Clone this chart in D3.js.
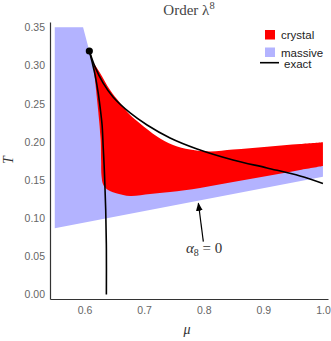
<!DOCTYPE html>
<html>
<head>
    <title>Order lambda^8</title>
    <script src="https://d3js.org/d3.v7.min.js"></script>
    <style>
        body { margin: 0; background: #fff; }
    </style>
</head>
<body>
    <svg width="331" height="341"></svg>
    <script>
        // tick values
        const muTicks = [0.6, 0.7, 0.8, 0.9, 1.0];
        const tTicks = [0.00, 0.05, 0.10, 0.15, 0.20, 0.25, 0.30, 0.35];

        // massive region [mu, T]
        const massive = [
            [0.55, 0.35], [0.5975, 0.35], [0.608, 0.319], [0.6143, 0.3047],
            [0.62, 0.27], [0.625, 0.23], [0.628, 0.17], [0.64, 0.15],
            [1.0, 0.175], [1.0, 0.1544], [0.55, 0.0868]
        ];

        // crystal region, upper edge then lower edge
        const crystalTop = [
            [0.6143, 0.3047], [0.626, 0.2903], [0.6428, 0.268], [0.6596, 0.251],
            [0.6765, 0.2352], [0.6931, 0.2241], [0.7216, 0.2071], [0.7485, 0.1959],
            [0.777, 0.19], [0.8106, 0.1874], [0.8492, 0.19], [0.9062, 0.1937],
            [0.9616, 0.1972], [1.0, 0.1995]
        ];
        const crystalBottom = [
            [1.0, 0.1684], [0.9616, 0.1632], [0.9062, 0.1553], [0.8492, 0.1474],
            [0.7938, 0.1396], [0.7435, 0.1343], [0.7099, 0.1317], [0.6763, 0.1291],
            [0.6545, 0.1324], [0.6394, 0.137], [0.6315, 0.1435], [0.6285, 0.1553],
            [0.6277, 0.1763], [0.6268, 0.2025], [0.6243, 0.2287], [0.621, 0.2549],
            [0.6176, 0.2811], [0.6143, 0.3047]
        ];

        // exact curves from the end point
        const exactUpper = [
            [0.608, 0.319], [0.6176, 0.2982], [0.631, 0.2772], [0.6478, 0.2588],
            [0.6765, 0.2379], [0.7049, 0.2221], [0.7435, 0.2051], [0.7888, 0.1907],
            [0.8492, 0.1763], [0.9062, 0.1658], [0.9616, 0.1553], [1.0, 0.1455]
        ];
        const exactLower = [
            [0.608, 0.319], [0.6126, 0.3047], [0.6176, 0.2877], [0.6226, 0.2654],
            [0.626, 0.2457], [0.6294, 0.222], [0.6311, 0.1959], [0.6328, 0.1697],
            [0.6341, 0.1435], [0.6355, 0.1107], [0.6366, 0.06], [0.6366, 0.0]
        ];
        const endPoint = [0.608, 0.319];

        const svg = d3.select("svg");

        const x = d3.scaleLinear().domain([0.542, 1.0085]).range([50, 328]);
        const y = d3.scaleLinear().domain([-0.0059, 0.357]).range([299, 22]);

        const line = d3.line().x(d => x(d[0])).y(d => y(d[1]));
        const smooth = d3.line().x(d => x(d[0])).y(d => y(d[1])).curve(d3.curveCatmullRom);

        // massive (blue)
        svg.append("path")
           .attr("d", line(massive) + "Z")
           .attr("fill", "#b3b3ff");

        // crystal (red)
        svg.append("path")
           .attr("d", smooth(crystalTop) + smooth(crystalBottom).replace("M", "L") + "Z")
           .attr("fill", "#ff0000");

        // exact curves
        [exactUpper, exactLower].forEach(c => {
            svg.append("path")
               .attr("d", smooth(c))
               .attr("fill", "none")
               .attr("stroke", "#000")
               .attr("stroke-width", 1.6);
        });
        svg.append("circle")
           .attr("cx", x(endPoint[0]))
           .attr("cy", y(endPoint[1]))
           .attr("r", 3.6)
           .attr("fill", "#000");

        // axes
        const xAxis = svg.append("g")
           .attr("transform", "translate(0,299)")
           .call(d3.axisBottom(x).tickValues(muTicks).tickSize(0).tickPadding(8).tickFormat(d3.format(".1f")));
        const yAxis = svg.append("g")
           .attr("transform", "translate(50,0)")
           .call(d3.axisLeft(y).tickValues(tTicks).tickSize(0).tickPadding(5).tickFormat(d3.format(".2f")));
        [xAxis, yAxis].forEach(a => {
            a.select(".domain").attr("stroke", "#333").attr("stroke-width", 1.2);
            a.selectAll("text")
             .attr("fill", "#666")
             .style("font-family", "'Liberation Sans', Arial, sans-serif")
             .style("font-size", "10.5px");
        });

        // title and labels
        const title = svg.append("text")
           .attr("x", 189).attr("y", 15)
           .attr("text-anchor", "middle")
           .style("font-family", "'Liberation Serif', 'Times New Roman', serif")
           .style("font-size", "15px")
           .attr("fill", "#444");
        title.append("tspan").text("Order ");
        title.append("tspan").text("λ");
        title.append("tspan").text("8").attr("dy", -6).style("font-size", "10.5px");

        svg.append("text")
           .attr("transform", "translate(13,160) rotate(-90)")
           .attr("text-anchor", "middle")
           .style("font-family", "'Liberation Serif', serif")
           .style("font-style", "italic")
           .style("font-size", "14px")
           .attr("fill", "#333")
           .text("T");

        svg.append("text")
           .attr("x", 187).attr("y", 334)
           .attr("text-anchor", "middle")
           .style("font-family", "'Liberation Serif', serif")
           .style("font-style", "italic")
           .style("font-size", "14px")
           .attr("fill", "#333")
           .text("μ");

        // annotation arrow
        svg.append("defs").append("marker")
           .attr("id", "head")
           .attr("viewBox", "0 0 10 10")
           .attr("refX", 9).attr("refY", 5)
           .attr("markerWidth", 7).attr("markerHeight", 7)
           .attr("orient", "auto")
           .append("path")
           .attr("d", "M0,1 L10,5 L0,9 Z")
           .attr("fill", "#000");
        svg.append("line")
           .attr("x1", x(0.7993)).attr("y1", y(0.0692))
           .attr("x2", x(0.791)).attr("y2", y(0.1195))
           .attr("stroke", "#000")
           .attr("stroke-width", 1.2)
           .attr("marker-end", "url(#head)");
        const ann = svg.append("text")
           .attr("x", x(0.8005)).attr("y", y(0.0544))
           .attr("text-anchor", "middle")
           .style("font-family", "'Liberation Serif', serif")
           .style("font-size", "15px")
           .attr("fill", "#333");
        ann.append("tspan").text("α").style("font-style", "italic");
        ann.append("tspan").text("8").attr("dy", 3).style("font-size", "10px");
        ann.append("tspan").text(" = 0").attr("dy", -3);

        // legend
        const legend = svg.append("g")
           .style("font-family", "'Liberation Sans', Arial, sans-serif")
           .style("font-size", "11.5px");
        legend.append("rect").attr("x", 265).attr("y", 30).attr("width", 10).attr("height", 9.5).attr("fill", "#ff0000");
        legend.append("text").attr("x", 281).attr("y", 39).attr("fill", "#222").text("crystal");
        legend.append("rect").attr("x", 265).attr("y", 47.5).attr("width", 10).attr("height", 9.5).attr("fill", "#b3b3ff");
        legend.append("text").attr("x", 281).attr("y", 56.5).attr("fill", "#222").text("massive");
        legend.append("line").attr("x1", 260).attr("x2", 279).attr("y1", 62.7).attr("y2", 62.7)
              .attr("stroke", "#000").attr("stroke-width", 1.6);
        legend.append("text").attr("x", 284).attr("y", 67.5).attr("fill", "#222").text("exact");
    </script>
</body>
</html>
